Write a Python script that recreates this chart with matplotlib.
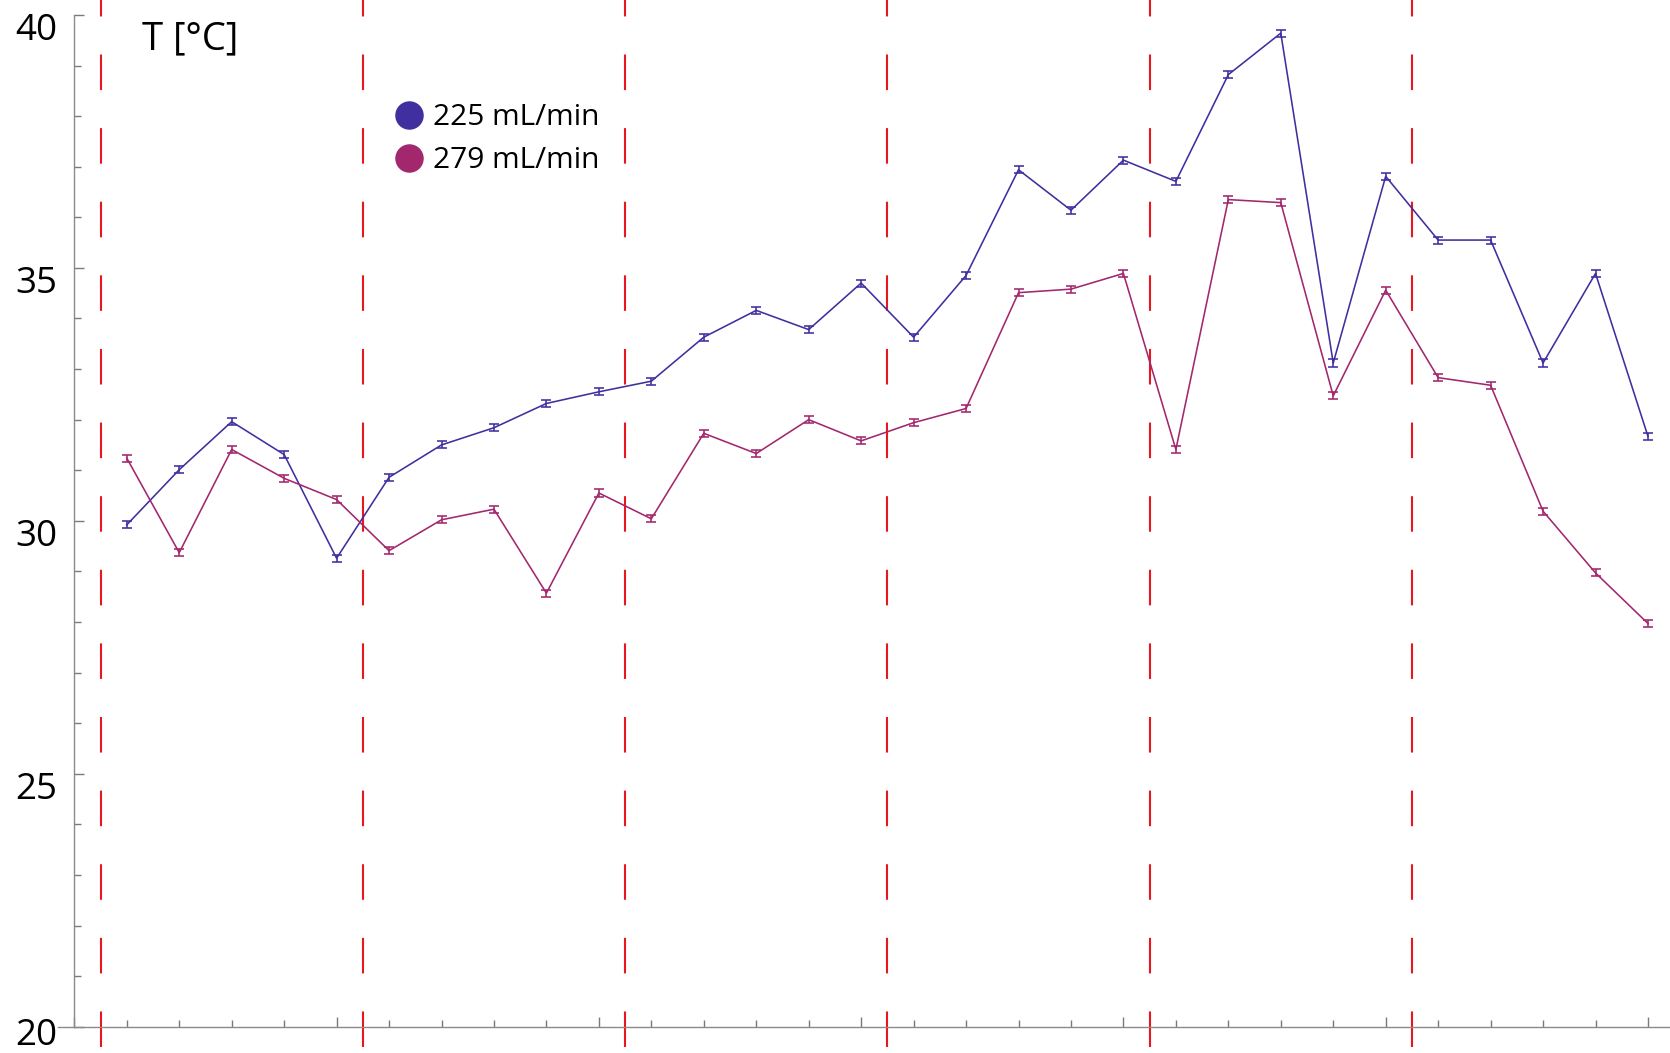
import matplotlib
matplotlib.use("Agg")
import matplotlib.pyplot as plt
from matplotlib.lines import Line2D
from matplotlib.ticker import MultipleLocator
from matplotlib.transforms import ScaledTranslation

plt.rcParams['font.family'] = ['Open Sans', 'DejaVu Sans']
plt.rcParams['lines.scale_dashes'] = False

# measurement number
step = list(range(1, 31))

# temperature readings [°C] for the two flow rates
t_225 = [29.92, 31.01, 31.96, 31.31, 29.26, 30.86, 31.50, 31.84, 32.32, 32.55,
         32.76, 33.63, 34.16, 33.78, 34.70, 33.63, 34.85, 36.94, 36.14, 37.13,
         36.71, 38.82, 39.64, 33.12, 36.81, 35.55, 35.55, 33.12, 34.89, 31.67]
t_279 = [31.24, 29.37, 31.41, 30.84, 30.42, 29.41, 30.02, 30.23, 28.57, 30.55,
         30.04, 31.73, 31.33, 32.00, 31.58, 31.94, 32.22, 34.51, 34.58, 34.89,
         31.41, 36.35, 36.29, 32.47, 34.56, 32.83, 32.68, 30.19, 28.97, 27.97]
t_err = 0.07

series_labels = ['225 mL/min', '279 mL/min']
series_colors = ['#3f2f9f', '#a2276d']

y_ticks = [20, 25, 30, 35, 40]

# boundaries between measurement blocks
block_edges = [0.5, 5.5, 10.5, 15.5, 20.5, 25.5]

fig = plt.figure(figsize=(16.7, 10.53), dpi=100)
ax = fig.add_axes([0.0445, 0.025, 0.9555, 0.9608])

for x in block_edges:
    ax.axvline(x, ymin=-0.0198, ymax=1.03, color='#e8161e', lw=1.5,
               ls=(0, (25.6, 27.4)), clip_on=False, zorder=1)

for vals, col in zip([t_225, t_279], series_colors):
    ax.errorbar(step, vals, yerr=t_err, color=col, lw=1.15, elinewidth=1.15,
                capsize=3.8, capthick=1.15, zorder=3)

ax.set_xlim(0, 30.42)
ax.set_ylim(20, 40)

for side in ['top', 'right']:
    ax.spines[side].set_visible(False)
for side in ['left', 'bottom']:
    ax.spines[side].set_color('#8a8a8a')
    ax.spines[side].set_linewidth(1.0)
# bottom axis line runs a little past the left axis
ax.plot([-0.01, 0], [0, 0], color='#8a8a8a', lw=1.0,
        transform=ax.transAxes, clip_on=False)

ax.xaxis.set_major_locator(MultipleLocator(5))
ax.xaxis.set_minor_locator(MultipleLocator(1))
ax.set_yticks(y_ticks)
ax.yaxis.set_minor_locator(MultipleLocator(1))
ax.tick_params(which='both', direction='in', color='#7a7a7a', width=1.0)
ax.tick_params(which='major', length=7.5)
ax.tick_params(which='minor', length=4.8)
ax.tick_params(axis='x', labelbottom=False)
ax.tick_params(axis='y', labelleft=False)

# y labels hang just below their tick; the lowest one is lifted to stay on the page
for v in y_ticks:
    dy = 6 if v == y_ticks[0] else 1.5
    off = ScaledTranslation(-12 / 72, dy / 72, fig.dpi_scale_trans)
    ax.text(0, v, str(v), fontsize=26.5, ha='right', va='top',
            transform=ax.get_yaxis_transform() + off, clip_on=False)

fig.text(0.085, 1 - 49 / 1053, 'T [°C]', fontsize=27.5, va='baseline')

handles = [Line2D([], [], ls='', marker='o', markersize=19.5, color=c)
           for c in series_colors]
ax.legend(handles, series_labels, loc='upper left',
          bbox_to_anchor=(0.202, 0.913), frameon=False, fontsize=21.5,
          handlelength=0.8, handletextpad=0.42, labelspacing=0.48,
          borderpad=0, borderaxespad=0)

fig.savefig('out.png', dpi=100)
